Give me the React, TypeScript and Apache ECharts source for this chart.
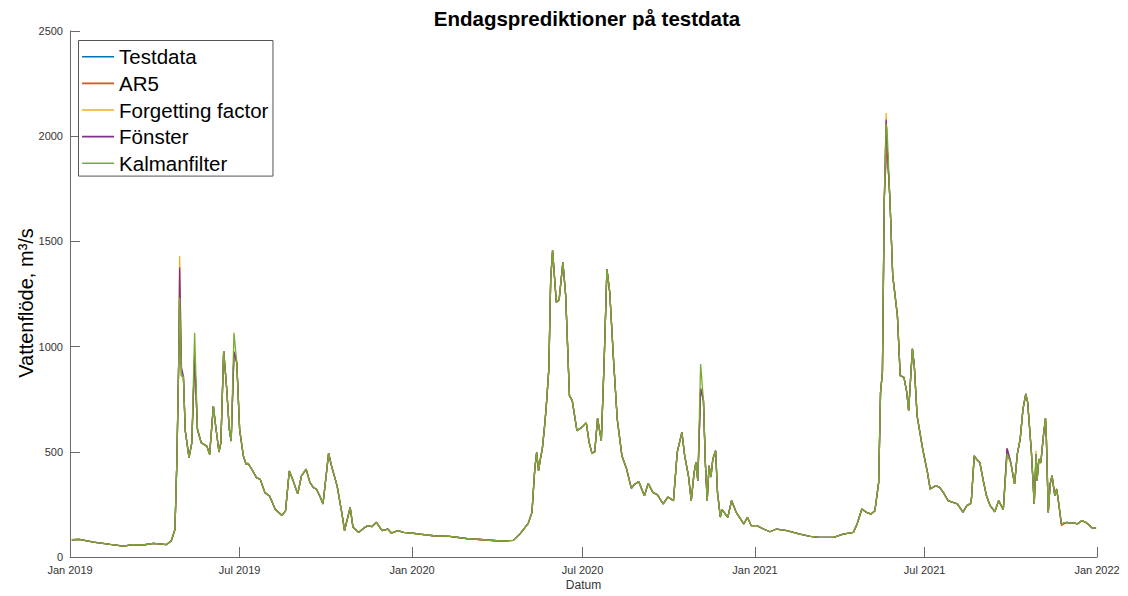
import React, { useEffect, useRef } from "react";
import * as echarts from "echarts";

// Testdata: daily water flow (m3/s), sampled at the visible turning points
const testdata: [string, number][] = [
  ["2019-01-03", 82], ["2019-01-11", 84], ["2019-01-26", 71], ["2019-02-13", 60],
  ["2019-02-27", 52], ["2019-03-09", 59], ["2019-03-20", 57], ["2019-03-31", 65],
  ["2019-04-14", 59], ["2019-04-19", 76], ["2019-04-23", 131], ["2019-04-25", 448],
  ["2019-04-27", 923], ["2019-04-28", 1180], ["2019-04-30", 860], ["2019-05-02", 860],
  ["2019-05-04", 600], ["2019-05-08", 472], ["2019-05-11", 543], ["2019-05-14", 955],
  ["2019-05-17", 607], ["2019-05-21", 543], ["2019-05-27", 527], ["2019-05-30", 488],
  ["2019-06-03", 717], ["2019-06-05", 638], ["2019-06-09", 499], ["2019-06-11", 543],
  ["2019-06-14", 979], ["2019-06-17", 813], ["2019-06-20", 607], ["2019-06-22", 551],
  ["2019-06-25", 975], ["2019-06-28", 923], ["2019-07-01", 607], ["2019-07-05", 480],
  ["2019-07-08", 440], ["2019-07-10", 445], ["2019-07-14", 417], ["2019-07-19", 377],
  ["2019-07-23", 369], ["2019-07-28", 306], ["2019-08-02", 290], ["2019-08-08", 227],
  ["2019-08-15", 198], ["2019-08-19", 219], ["2019-08-23", 409], ["2019-08-26", 377],
  ["2019-09-01", 300], ["2019-09-05", 385], ["2019-09-10", 418], ["2019-09-14", 355],
  ["2019-09-18", 329], ["2019-09-21", 323], ["2019-09-25", 285], ["2019-09-28", 252],
  ["2019-10-04", 494], ["2019-10-07", 434], ["2019-10-13", 339], ["2019-10-18", 212],
  ["2019-10-21", 125], ["2019-10-27", 236], ["2019-10-30", 141], ["2019-11-05", 117],
  ["2019-11-10", 136], ["2019-11-15", 149], ["2019-11-19", 144], ["2019-11-24", 165],
  ["2019-11-30", 125], ["2019-12-06", 133], ["2019-12-10", 114], ["2019-12-17", 125],
  ["2019-12-23", 117], ["2019-12-31", 114], ["2020-01-09", 109], ["2020-01-24", 101],
  ["2020-02-10", 98], ["2020-02-28", 88], ["2020-03-17", 82], ["2020-04-04", 76],
  ["2020-04-18", 79], ["2020-04-25", 109], ["2020-05-04", 160], ["2020-05-08", 212],
  ["2020-05-11", 418], ["2020-05-13", 497], ["2020-05-15", 410], ["2020-05-17", 466],
  ["2020-05-19", 513], ["2020-05-21", 600], ["2020-05-23", 700], ["2020-05-26", 893],
  ["2020-05-28", 1321], ["2020-05-30", 1456], ["2020-06-03", 1211], ["2020-06-06", 1223],
  ["2020-06-10", 1401], ["2020-06-13", 1242], ["2020-06-17", 767], ["2020-06-20", 743],
  ["2020-06-25", 600], ["2020-06-30", 616], ["2020-07-05", 637], ["2020-07-08", 545],
  ["2020-07-11", 494], ["2020-07-14", 500], ["2020-07-17", 659], ["2020-07-21", 553],
  ["2020-07-24", 925], ["2020-07-27", 1369], ["2020-07-30", 1258], ["2020-08-03", 941],
  ["2020-08-07", 656], ["2020-08-12", 481], ["2020-08-17", 418], ["2020-08-22", 327],
  ["2020-08-26", 347], ["2020-08-30", 358], ["2020-09-05", 291], ["2020-09-09", 350],
  ["2020-09-14", 307], ["2020-09-19", 295], ["2020-09-25", 252], ["2020-09-30", 285],
  ["2020-10-06", 268], ["2020-10-10", 497], ["2020-10-15", 592], ["2020-10-18", 481],
  ["2020-10-22", 386], ["2020-10-25", 268], ["2020-10-28", 400], ["2020-10-30", 450],
  ["2020-11-01", 363], ["2020-11-04", 800], ["2020-11-07", 743], ["2020-11-09", 450],
  ["2020-11-11", 268], ["2020-11-13", 434], ["2020-11-15", 380], ["2020-11-17", 466],
  ["2020-11-20", 505], ["2020-11-22", 307], ["2020-11-25", 190], ["2020-11-27", 225],
  ["2020-12-01", 200], ["2020-12-03", 188], ["2020-12-07", 268], ["2020-12-12", 212],
  ["2020-12-20", 157], ["2020-12-24", 188], ["2020-12-28", 149], ["2021-01-03", 149],
  ["2021-01-10", 133], ["2021-01-17", 120], ["2021-01-24", 133], ["2021-02-04", 125],
  ["2021-02-18", 109], ["2021-03-01", 98], ["2021-03-11", 93], ["2021-03-26", 93],
  ["2021-04-05", 109], ["2021-04-16", 117], ["2021-04-20", 157], ["2021-04-25", 228],
  ["2021-04-30", 212], ["2021-05-05", 204], ["2021-05-09", 220], ["2021-05-13", 355],
  ["2021-05-15", 783], ["2021-05-17", 878], ["2021-05-19", 1701], ["2021-05-21", 1912],
  ["2021-05-22", 1950], ["2021-05-25", 1701], ["2021-05-28", 1337], ["2021-06-02", 1147],
  ["2021-06-05", 862], ["2021-06-09", 854], ["2021-06-12", 783], ["2021-06-14", 696],
  ["2021-06-18", 989], ["2021-06-20", 910], ["2021-06-23", 672], ["2021-06-29", 513],
  ["2021-07-04", 403], ["2021-07-07", 323], ["2021-07-13", 339], ["2021-07-17", 331],
  ["2021-07-21", 307], ["2021-07-26", 268], ["2021-08-01", 258], ["2021-08-05", 252],
  ["2021-08-11", 213], ["2021-08-15", 244], ["2021-08-19", 254], ["2021-08-20", 276],
  ["2021-08-23", 481], ["2021-08-26", 462], ["2021-08-29", 449], ["2021-09-02", 355],
  ["2021-09-05", 292], ["2021-09-09", 244], ["2021-09-14", 215], ["2021-09-18", 268],
  ["2021-09-23", 225], ["2021-09-27", 490], ["2021-10-01", 449], ["2021-10-05", 347],
  ["2021-10-08", 490], ["2021-10-11", 560], ["2021-10-14", 703], ["2021-10-17", 775],
  ["2021-10-19", 735], ["2021-10-23", 498], ["2021-10-26", 252], ["2021-10-28", 490],
  ["2021-10-29", 363], ["2021-10-31", 466], ["2021-11-02", 447], ["2021-11-05", 584],
  ["2021-11-07", 659], ["2021-11-08", 560], ["2021-11-10", 212], ["2021-11-12", 347],
  ["2021-11-14", 387], ["2021-11-16", 323], ["2021-11-17", 292], ["2021-11-19", 323],
  ["2021-11-21", 260], ["2021-11-24", 157], ["2021-11-30", 165], ["2021-12-04", 160],
  ["2021-12-07", 162], ["2021-12-11", 157], ["2021-12-16", 173], ["2021-12-21", 162],
  ["2021-12-27", 138], ["2021-12-31", 137],
];

// Predictions follow the test data; these are the days where they differ visibly
const ar5Diff: [string, number][] = [["2019-04-28", 1250], ["2021-09-27", 516], ["2021-11-24", 150]];
const forgettingDiff: [string, number][] = [["2019-04-28", 1430], ["2021-05-21", 2110], ["2021-10-28", 505]];
const fonsterDiff: [string, number][] = [["2019-04-28", 1376], ["2019-04-30", 900], ["2021-05-21", 2078], ["2021-09-27", 516]];
const kalmanDiff: [string, number][] = [
  ["2019-04-28", 1233], ["2019-05-14", 1066], ["2019-06-25", 1066],
  ["2020-11-04", 917], ["2021-05-21", 2057], ["2021-05-22", 2030],
];

const seriesNames = ["Testdata", "AR5", "Forgetting factor", "Fönster", "Kalmanfilter"];
const seriesColors = ["#0072BD", "#D95319", "#EDB120", "#7E2F8E", "#77AC30"];
const monthNames = ["Jan", "Feb", "Mar", "Apr", "May", "Jun", "Jul", "Aug", "Sep", "Oct", "Nov", "Dec"];
const tickDates: [number, number][] = [[2019, 0], [2019, 6], [2020, 0], [2020, 6], [2021, 0], [2021, 6], [2022, 0]];
const yTicks = { min: 0, max: 2500, interval: 500 };

function toTime(s: string): number {
  const [y, m, d] = s.split("-").map(Number);
  return new Date(y, m - 1, d).getTime();
}

function withDiff(diff: [string, number][]): [number, number][] {
  const m = new Map(diff);
  return testdata.map(([d, v]) => [toTime(d), m.has(d) ? (m.get(d) as number) : v]);
}

export default function App() {
  const ref = useRef<HTMLDivElement>(null);
  useEffect(() => {
    if (!ref.current) return;
    const chart = echarts.init(ref.current, undefined, { renderer: "svg" });
    const tickVals = tickDates.map(([y, m]) => new Date(y, m, 1).getTime());
    const datasets = [withDiff([]), withDiff(ar5Diff), withDiff(forgettingDiff), withDiff(fonsterDiff), withDiff(kalmanDiff)];
    const font = "'Liberation Sans', Arial, Helvetica, sans-serif";
    const axisColor = "#6b6b6b";
    chart.setOption({
      animation: false,
      backgroundColor: "#ffffff",
      textStyle: { fontFamily: font },
      title: {
        text: "Endagsprediktioner på testdata",
        left: 582,
        top: 3,
        textAlign: "center",
        textStyle: { fontSize: 20.5, fontWeight: "bold", color: "#000", fontFamily: font },
      },
      grid: { left: 70, right: 31, top: 31, bottom: 38, containLabel: false },
      legend: {
        orient: "vertical",
        left: 78.5,
        top: 40.5,
        icon: "rect",
        itemWidth: 32,
        itemHeight: 1.6,
        itemGap: 5.6,
        padding: [5.8, 4.6, 2.4, 3.6],
        borderColor: "#555555",
        borderWidth: 1,
        borderRadius: 0,
        backgroundColor: "#ffffff",
        textStyle: { fontSize: 20.5, color: "#000", fontFamily: font },
        data: seriesNames,
      },
      xAxis: {
        type: "value",
        min: tickVals[0],
        max: tickVals[tickVals.length - 1],
        name: "Datum",
        nameLocation: "middle",
        nameGap: 22,
        nameMoveOverlap: false,
        nameTextStyle: { fontSize: 12, color: "#333", fontFamily: font },
        axisLine: { show: true, onZero: false, lineStyle: { color: axisColor, width: 1 } },
        axisTick: { show: true, inside: true, length: 10, customValues: tickVals, lineStyle: { color: axisColor } },
        axisLabel: {
          customValues: tickVals,
          margin: 7,
          fontSize: 11,
          color: "#333333",
          fontFamily: font,
          formatter: (v: number) => {
            const d = new Date(v);
            return monthNames[d.getMonth()] + " " + d.getFullYear();
          },
        },
        splitLine: { show: false },
      },
      yAxis: {
        type: "value",
        min: yTicks.min,
        max: yTicks.max,
        interval: yTicks.interval,
        name: "Vattenflöde, m³/s",
        nameLocation: "middle",
        nameGap: 34,
        nameMoveOverlap: false,
        nameTextStyle: { fontSize: 20, color: "#000", fontFamily: font, padding: [0, 18, 0, 0] },
        axisLine: { show: true, lineStyle: { color: axisColor, width: 1 } },
        axisTick: { show: true, inside: true, length: 10, lineStyle: { color: axisColor } },
        axisLabel: {
          margin: 7,
          fontSize: 11,
          color: "#333333",
          fontFamily: font,
          formatter: (v: number) => String(v),
        },
        splitLine: { show: false },
      },
      series: seriesNames.map((name, i) => ({
        name,
        type: "line",
        data: datasets[i],
        showSymbol: false,
        symbol: "none",
        color: seriesColors[i],
        lineStyle: { width: 1.3, color: seriesColors[i] },
        z: 2 + i,
      })),
    });
    return () => chart.dispose();
  }, []);
  return (
    <div
      ref={ref}
      style={{ position: "fixed", left: 0, top: 0, width: 1128, height: 596, background: "#fff" }}
    />
  );
}
